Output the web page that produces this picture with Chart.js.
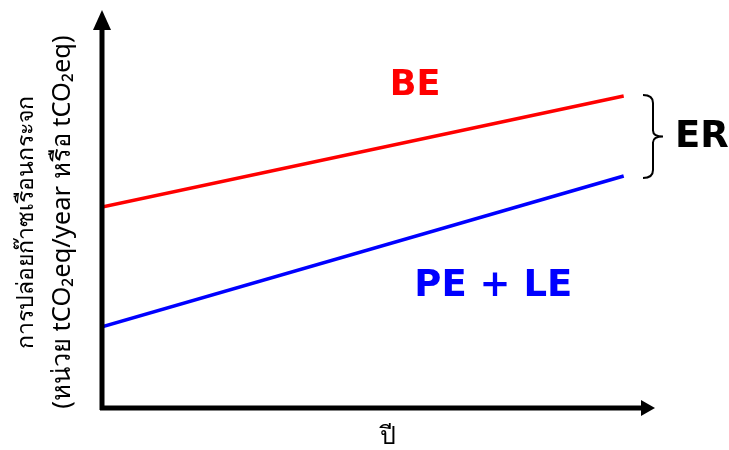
<!DOCTYPE html>
<html>
<head>
<meta charset="utf-8">
<script src="https://cdn.jsdelivr.net/npm/chart.js@4"></script>
<style>
  html, body { margin: 0; padding: 0; background: #fff; }
  #wrap { width: 729px; height: 450px; }
</style>
</head>
<body>
<div id="wrap"><canvas id="c"></canvas></div>
<script>
// Schematic: baseline vs project emissions over time
const years    = [0, 10];
const beValues = [5.05, 7.84];   // baseline emissions
const peValues = [2.04, 5.83];   // project + leakage emissions

const Y_TITLE_1 = 'การปล่อยก๊าซเรือนกระจก';
const Y_TITLE_2 = '(หน่วย tCO\u2082eq/year หรือ tCO\u2082eq)';
const X_TITLE   = 'ปี';

const FONT = '"Noto Sans", "DejaVu Sans", sans-serif';
const BOLD = '"DejaVu Sans", sans-serif';

// axes with arrow heads, labels and the ER brace
const decor = {
  id: 'decor',
  afterDraw(chart) {
    const { ctx, chartArea: a, scales: { x, y } } = chart;
    ctx.save();
    ctx.strokeStyle = '#000';
    ctx.fillStyle = '#000';
    ctx.lineWidth = 5;
    ctx.lineCap = 'butt';
    // y axis
    ctx.beginPath();
    ctx.moveTo(a.left, a.bottom + 2);
    ctx.lineTo(a.left, a.top + 14);
    ctx.stroke();
    ctx.beginPath();
    ctx.moveTo(a.left, a.top);
    ctx.lineTo(a.left - 9, a.top + 20);
    ctx.lineTo(a.left + 9, a.top + 20);
    ctx.closePath();
    ctx.fill();
    // x axis
    ctx.beginPath();
    ctx.moveTo(a.left - 2, a.bottom);
    ctx.lineTo(a.right - 14, a.bottom);
    ctx.stroke();
    ctx.beginPath();
    ctx.moveTo(a.right, a.bottom);
    ctx.lineTo(a.right - 14, a.bottom - 8);
    ctx.lineTo(a.right - 14, a.bottom + 8);
    ctx.closePath();
    ctx.fill();

    // series labels
    ctx.textAlign = 'center';
    ctx.textBaseline = 'middle';
    ctx.font = 'bold 35px ' + BOLD;
    ctx.fillStyle = '#ff0000';
    ctx.fillText('BE', x.getPixelForValue(6.0), y.getPixelForValue(8.1));
    ctx.font = 'bold 37px ' + BOLD;
    ctx.fillStyle = '#0000ff';
    ctx.fillText('PE + LE', x.getPixelForValue(7.5), y.getPixelForValue(3.06));
    ctx.fillStyle = '#000';
    ctx.textAlign = 'left';
    ctx.fillText('ER', 675, y.getPixelForValue((beValues[1] + peValues[1]) / 2) + 1);

    // brace between the two line ends
    const yt = y.getPixelForValue(beValues[1]) - 1;
    const yb = y.getPixelForValue(peValues[1]) + 2;
    const ym = (yt + yb) / 2;
    const x0 = 643, x1 = 653, x2 = 663;
    ctx.lineWidth = 2;
    ctx.beginPath();
    ctx.moveTo(x0, yt);
    ctx.quadraticCurveTo(x1, yt, x1, yt + 8);
    ctx.lineTo(x1, ym - 6);
    ctx.quadraticCurveTo(x1, ym, x2, ym);
    ctx.quadraticCurveTo(x1, ym, x1, ym + 6);
    ctx.lineTo(x1, yb - 8);
    ctx.quadraticCurveTo(x1, yb, x0, yb);
    ctx.stroke();

    // axis titles
    ctx.fillStyle = '#000';
    ctx.textAlign = 'center';
    ctx.font = '25px ' + FONT;
    ctx.fillText(X_TITLE, 388, 437);
    ctx.translate(0, 222);
    ctx.rotate(-Math.PI / 2);
    ctx.font = '23px ' + FONT;
    ctx.fillText(Y_TITLE_1, 0, 26);
    ctx.font = '25.5px ' + FONT;
    ctx.fillText(Y_TITLE_2, 0, 63);
    ctx.restore();
  }
};

new Chart(document.getElementById('c'), {
  type: 'line',
  data: {
    datasets: [
      {
        label: 'BE',
        data: years.map((t, i) => ({ x: t, y: beValues[i] })),
        borderColor: '#ff0000',
        borderWidth: 3.5,
        pointRadius: 0,
        tension: 0,
      },
      {
        label: 'PE + LE',
        data: years.map((t, i) => ({ x: t, y: peValues[i] })),
        borderColor: '#0000ff',
        borderWidth: 3.5,
        pointRadius: 0,
        tension: 0,
      },
    ],
  },
  options: {
    responsive: true,
    maintainAspectRatio: false,
    animation: false,
    layout: { padding: { left: 102, right: 74, top: 10, bottom: 42 } },
    plugins: { legend: { display: false }, tooltip: { enabled: false } },
    scales: {
      x: { type: 'linear', min: 0, max: 10.6, display: false },
      y: { min: 0, max: 10, display: false },
    },
  },
  plugins: [decor],
});
</script>
</body>
</html>
